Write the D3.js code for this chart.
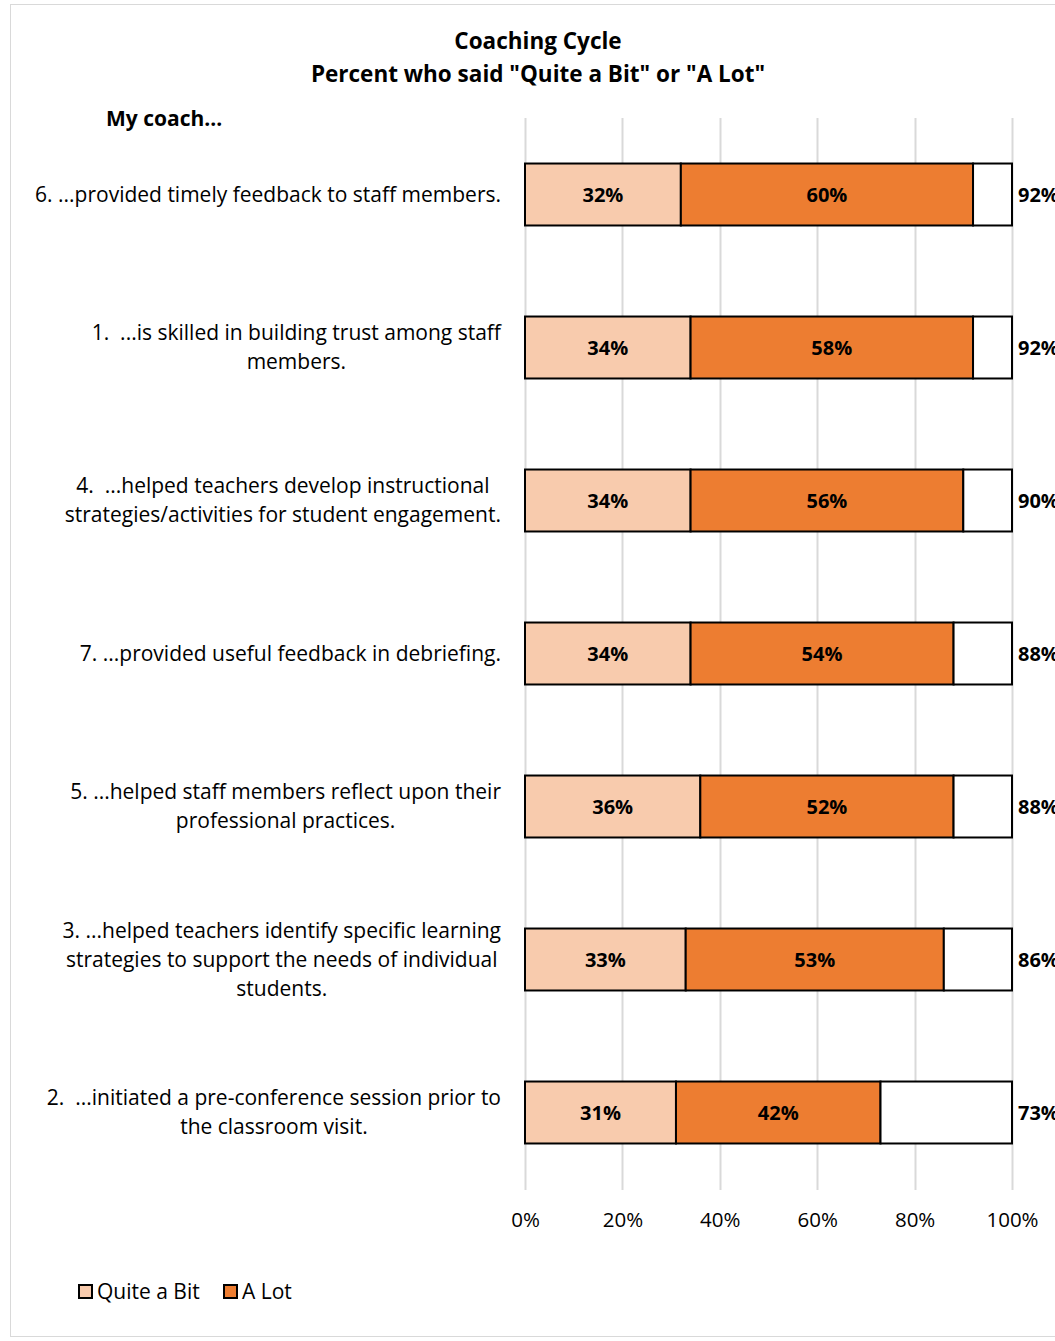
<!DOCTYPE html>
<html>
<head>
<meta charset="utf-8">
<script src="https://cdn.jsdelivr.net/npm/d3@7"></script>
<style>
  html, body { margin: 0; padding: 0; background: #fff; }
  svg { display: block; }
  text { font-family: "Open Sans", "Lato", sans-serif; fill: #000; white-space: pre; }
</style>
</head>
<body>
<svg id="chart" width="1055" height="1341"></svg>
<script>
// Survey items, top to bottom
const categories = [
  ["6. ...provided timely feedback to staff members."],
  ["1.  ...is skilled in building trust among staff", "members."],
  ["4.  ...helped teachers develop instructional", "strategies/activities for student engagement."],
  ["7. ...provided useful feedback in debriefing."],
  ["5. ...helped staff members reflect upon their", "professional practices."],
  ["3. ...helped teachers identify specific learning", "strategies to support the needs of individual", "students."],
  ["2.  ...initiated a pre-conference session prior to", "the classroom visit."]
];
const quiteABit = [32, 34, 34, 34, 36, 33, 31];
const aLot      = [60, 58, 56, 54, 52, 53, 42];
const totals    = [92, 92, 90, 88, 88, 86, 73];
const tickValues = [0, 20, 40, 60, 80, 100];
const seriesNames = ["Quite a Bit", "A Lot"];
const seriesColors = ["#F8CBAD", "#ED7D31"];

const FONT = "'Open Sans', Lato, sans-serif";
const svg = d3.select("#chart");

// chart frame
svg.append("rect")
  .attr("x", 10.5).attr("y", 4.5)
  .attr("width", 1100).attr("height", 1332)
  .attr("fill", "#fff").attr("stroke", "#d9d9d9").attr("stroke-width", 1);

// titles
svg.append("text").attr("x", 538).attr("y", 49)
  .attr("text-anchor", "middle").attr("font-size", 22.5).attr("font-weight", "bold")
  .text("Coaching Cycle");
svg.append("text").attr("x", 538).attr("y", 82)
  .attr("text-anchor", "middle").attr("font-size", 22.5).attr("font-weight", "bold")
  .text('Percent who said "Quite a Bit" or "A Lot"');
svg.append("text").attr("x", 106).attr("y", 126)
  .attr("font-size", 21).attr("font-weight", "bold")
  .text("My coach...");

const x = d3.scaleLinear().domain([0, 100]).range([525, 1012]);
const y = d3.scaleBand().domain(d3.range(categories.length))
  .range([118, 1189]).paddingInner(0.595).paddingOuter(0.2975);

// gridlines
const gridTop = 118, gridBottom = 1190;
svg.append("g").selectAll("line").data(tickValues).join("line")
  .attr("x1", d => Math.round(x(d)) + 0.5).attr("x2", d => Math.round(x(d)) + 0.5)
  .attr("y1", gridTop).attr("y2", gridBottom)
  .attr("stroke", "#d9d9d9").attr("stroke-width", 2);

// x axis labels
const xAxis = d3.axisBottom(x).tickValues(tickValues).tickFormat(d => d + "%").tickSize(0).tickPadding(0);
const ax = svg.append("g").attr("transform", "translate(0,1212)").call(xAxis);
ax.select(".domain").remove();
ax.selectAll("text").attr("font-size", 20.5).attr("font-family", FONT).attr("fill", "#000");

// stacked segments
const rows = categories.map((c, i) => ({
  i,
  segs: [
    { x0: 0, x1: quiteABit[i], fill: seriesColors[0], label: quiteABit[i] + "%" },
    { x0: quiteABit[i], x1: quiteABit[i] + aLot[i], fill: seriesColors[1], label: aLot[i] + "%" },
    { x0: totals[i], x1: 100, fill: "#ffffff", label: null }
  ]
}));

const bars = svg.append("g");
rows.forEach(r => {
  const g = bars.append("g");
  g.selectAll("rect").data(r.segs).join("rect")
    .attr("x", d => x(d.x0)).attr("width", d => x(d.x1) - x(d.x0))
    .attr("y", y(r.i)).attr("height", y.bandwidth())
    .attr("fill", d => d.fill).attr("stroke", "#000").attr("stroke-width", 2);
  g.selectAll("text.v").data(r.segs.filter(d => d.label)).join("text")
    .attr("class", "v")
    .attr("x", d => (x(d.x0) + x(d.x1)) / 2)
    .attr("y", y(r.i) + y.bandwidth() / 2)
    .attr("dy", "0.35em").attr("text-anchor", "middle")
    .attr("font-size", 20).attr("font-weight", "bold")
    .text(d => d.label);
  g.append("text")
    .attr("x", x(100) + 6).attr("y", y(r.i) + y.bandwidth() / 2)
    .attr("dy", "0.35em").attr("font-size", 20).attr("font-weight", "bold")
    .text(totals[r.i] + "%");
});

// category labels: block right-aligned, lines centred within block
const lineH = 29;
const labelRight = 501;
categories.forEach((lines, k) => {
  const cy = y(k) + y.bandwidth() / 2;
  const g = svg.append("g");
  const texts = lines.map((ln, j) => g.append("text")
    .attr("font-size", 21).attr("text-anchor", "middle")
    .attr("y", cy + (j - (lines.length - 1) / 2) * lineH)
    .attr("dy", "0.35em").text(ln));
  const w = d3.max(texts, t => t.node().getComputedTextLength());
  texts.forEach(t => t.attr("x", labelRight - w / 2));
});

// legend
const legend = svg.append("g");
const legendX = [79, 224];
seriesNames.forEach((name, k) => {
  legend.append("rect").attr("x", legendX[k]).attr("y", 1285)
    .attr("width", 13).attr("height", 13)
    .attr("fill", seriesColors[k]).attr("stroke", "#000").attr("stroke-width", 2);
  legend.append("text").attr("x", legendX[k] + 18).attr("y", 1292)
    .attr("dy", "0.35em").attr("font-size", 21).text(name);
});
</script>
</body>
</html>
